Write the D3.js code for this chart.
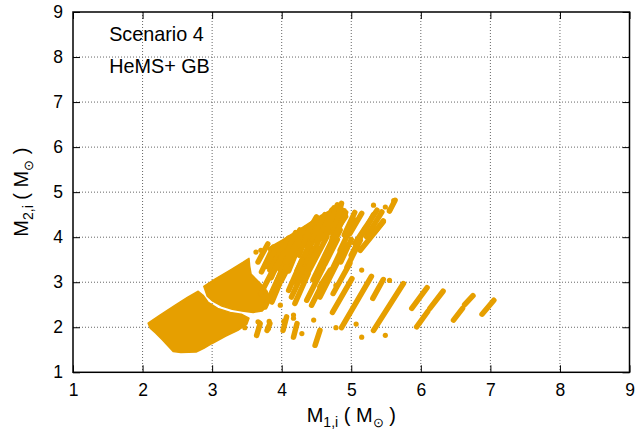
<!DOCTYPE html>
<html>
<head>
<meta charset="utf-8">
<script src="https://cdn.jsdelivr.net/npm/d3@7"></script>
<style>
  body { margin: 0; background: #fff; }
  svg { display: block; font-family: "Liberation Sans", Arial, sans-serif; }
</style>
</head>
<body>
<svg width="638" height="437"></svg>
<script>
  // tick values on both axes
  var xTicks = [1, 2, 3, 4, 5, 6, 7, 8, 9];
  var yTicks = [1, 2, 3, 4, 5, 6, 7, 8, 9];
  var notes = ["Scenario 4", "HeMS+ GB"];

  // dense regions (outline of the overlapping points), M1,i / M2,i
  var blobLow = [
    [2.08, 2.09], [2.25, 2.27], [2.47, 2.49], [2.65, 2.67], [2.80, 2.80],
    [2.87, 2.71], [2.94, 2.56], [3.08, 2.42], [3.26, 2.33], [3.42, 2.29],
    [3.53, 2.20], [3.50, 2.07], [3.37, 1.93], [3.19, 1.80], [3.00, 1.64],
    [2.88, 1.53], [2.77, 1.45], [2.55, 1.44], [2.44, 1.46], [2.37, 1.58],
    [2.28, 1.73], [2.19, 1.87], [2.11, 1.98]
  ];
  var blobHigh = [
    [2.88, 2.91], [3.04, 3.07], [3.26, 3.27], [3.44, 3.44], [3.53, 3.53],
    [3.54, 3.36], [3.56, 3.18], [3.63, 3.07], [3.72, 2.93], [3.79, 2.80],
    [3.83, 2.62], [3.79, 2.47], [3.72, 2.36], [3.59, 2.33], [3.43, 2.36],
    [3.29, 2.40], [3.14, 2.47], [3.01, 2.58], [2.93, 2.69]
  ];
  var blobTop = [
    [3.80, 3.75], [4.00, 3.93], [4.26, 4.18], [4.55, 4.47], [4.80, 4.68],
    [4.92, 4.62], [4.95, 4.45], [4.85, 4.22], [4.65, 4.02], [4.45, 3.87],
    [4.25, 3.72], [4.05, 3.60], [3.88, 3.55]
  ];

  // runs of points: [M1 start, M2 start, M1 end, M2 end]
  var streaks = [
    // upper cluster
    [3.71, 3.23, 3.88, 3.78], [3.78, 3.35, 3.95, 3.82], [3.83, 3.27, 4.02, 3.86],
    [3.90, 3.45, 4.10, 3.98], [3.93, 3.01, 4.12, 3.71], [3.98, 3.27, 4.26, 4.16],
    [4.05, 3.55, 4.20, 4.10], [4.10, 3.25, 4.35, 4.20], [4.14, 2.67, 4.41, 3.56],
    [4.17, 3.56, 4.50, 4.45], [4.20, 3.00, 4.45, 3.75], [4.25, 3.60, 4.42, 4.28],
    [4.30, 3.40, 4.58, 4.40], [4.31, 3.01, 4.65, 4.01], [4.36, 2.60, 4.60, 3.34],
    [4.40, 3.80, 4.62, 4.50], [4.43, 3.56, 4.72, 4.60], [4.50, 3.90, 4.75, 4.65],
    [4.55, 3.27, 4.84, 4.16], [4.55, 2.67, 4.84, 3.56], [4.60, 3.95, 4.80, 4.72],
    [4.67, 3.64, 4.86, 4.75], [4.74, 2.75, 4.98, 3.42], [4.75, 3.95, 4.92, 4.55],
    [4.84, 3.71, 5.05, 4.38], [4.94, 3.34, 5.13, 3.93], [4.98, 4.08, 5.15, 4.53],
    [5.05, 3.86, 5.37, 4.60], [5.13, 3.71, 5.46, 4.34], [5.22, 4.01, 5.44, 4.56],
    [5.34, 4.12, 5.46, 4.36], [5.55, 4.58, 5.63, 4.82],
    [3.66, 3.45, 3.80, 3.85], [3.85, 3.10, 3.98, 3.55], [4.00, 3.05, 4.15, 3.50],
    [4.06, 3.40, 4.30, 4.15], [4.22, 3.25, 4.40, 3.85], [4.35, 3.20, 4.52, 3.75],
    [4.45, 3.05, 4.70, 3.85], [4.62, 3.40, 4.80, 3.95], [4.70, 3.20, 4.90, 3.85],
    [4.85, 3.45, 5.00, 3.95], [4.90, 4.05, 5.05, 4.55], [5.00, 3.60, 5.20, 4.20],
    [5.18, 4.10, 5.32, 4.50],
    // joining the upper dense region to the cluster
    [3.76, 2.45, 3.98, 3.19], [3.86, 2.56, 4.07, 3.34], [3.70, 2.75, 3.85, 3.20],
    // middle, under the cluster
    [3.90, 3.27, 4.04, 3.67], [4.10, 2.82, 4.29, 3.49], [4.19, 2.53, 4.38, 3.19],
    [4.43, 2.49, 4.60, 3.01], [4.55, 2.90, 4.70, 3.27], [4.73, 2.33, 5.01, 3.08],
    // short runs below the dense regions
    [3.64, 1.82, 3.69, 2.08], [3.79, 1.93, 3.83, 2.08], [4.02, 1.93, 4.07, 2.23],
    [4.17, 1.78, 4.22, 2.08], [4.48, 1.60, 4.55, 1.93],
    // lower right
    [4.86, 1.99, 5.29, 3.13], [5.31, 2.64, 5.46, 3.06], [5.32, 1.93, 5.75, 2.97],
    [5.87, 2.42, 6.09, 2.88], [5.94, 2.01, 6.10, 2.35], [6.13, 2.42, 6.32, 2.80],
    [6.47, 2.16, 6.60, 2.42], [6.63, 2.50, 6.75, 2.70], [6.88, 2.29, 7.05, 2.60]
  ];

  // single points
  var dots = [
    [3.63, 3.67], [3.70, 3.71], [5.32, 4.71], [5.49, 4.67], [5.55, 4.60],
    [5.61, 4.81], [5.55, 3.04], [5.15, 3.27], [4.78, 2.93], [4.78, 1.99],
    [5.07, 2.07], [5.15, 1.78], [5.49, 1.82], [4.17, 2.27], [4.29, 1.86],
    [4.46, 2.16], [3.47, 1.99], [3.66, 2.12], [3.81, 1.97], [3.98, 2.49],
    [3.68, 2.10], [3.82, 2.13], [4.03, 2.13], [4.17, 2.20]
  ];

  var color = "#e69f00";

  var svg = d3.select("svg"),
      margin = {top: 12, right: 8.5, bottom: 64.7, left: 73},
      width = +svg.attr("width") - margin.left - margin.right,
      height = +svg.attr("height") - margin.top - margin.bottom,
      g = svg.append("g").attr("transform", "translate(" + margin.left + "," + margin.top + ")");

  var x = d3.scaleLinear().domain([1, 9]).range([0, width]);
  var y = d3.scaleLinear().domain([1, 9]).range([height, 0]);

  // grid
  g.append("g")
    .selectAll("line")
    .data(xTicks.slice(1, -1))
    .enter().append("line")
    .attr("x1", function(d) { return x(d); })
    .attr("x2", function(d) { return x(d); })
    .attr("y1", 0)
    .attr("y2", height)
    .attr("stroke", "#666")
    .attr("stroke-dasharray", "1,2");

  g.append("g")
    .selectAll("line")
    .data(yTicks.slice(1, -1))
    .enter().append("line")
    .attr("y1", function(d) { return y(d); })
    .attr("y2", function(d) { return y(d); })
    .attr("x1", 0)
    .attr("x2", width)
    .attr("stroke", "#666")
    .attr("stroke-dasharray", "1,2");

  // points
  var pts = g.append("g");
  var line = d3.line()
    .x(function(d) { return x(d[0]); })
    .y(function(d) { return y(d[1]); })
    .curve(d3.curveLinearClosed);

  pts.selectAll("path.blob")
    .data([blobLow, blobHigh, blobTop])
    .enter().append("path")
    .attr("class", "blob")
    .attr("d", line)
    .attr("fill", color)
    .attr("stroke", color)
    .attr("stroke-width", 1.5)
    .attr("stroke-linejoin", "round");

  pts.selectAll("line")
    .data(streaks)
    .enter().append("line")
    .attr("x1", function(d) { return x(d[0]); })
    .attr("y1", function(d) { return y(d[1]); })
    .attr("x2", function(d) { return x(d[2]); })
    .attr("y2", function(d) { return y(d[3]); })
    .attr("stroke", color)
    .attr("stroke-width", 5.5)
    .attr("stroke-linecap", "round");

  pts.selectAll("circle")
    .data(dots)
    .enter().append("circle")
    .attr("cx", function(d) { return x(d[0]); })
    .attr("cy", function(d) { return y(d[1]); })
    .attr("r", 2.6)
    .attr("fill", color);

  // axes, ticks pointing inwards on all four sides
  function styleAxis(sel) {
    sel.select(".domain").remove();
    sel.selectAll(".tick line").attr("stroke", "#000");
    sel.selectAll(".tick text")
      .attr("fill", "#000")
      .attr("font-family", "Liberation Sans, Arial, sans-serif")
      .attr("font-size", 17.5);
  }

  g.append("g")
    .attr("transform", "translate(0," + height + ")")
    .call(d3.axisBottom(x).tickValues(xTicks).tickSize(-7).tickPadding(11).tickFormat(d3.format("d")))
    .call(styleAxis);

  g.append("g")
    .call(d3.axisLeft(y).tickValues(yTicks).tickSize(-7).tickPadding(10).tickFormat(d3.format("d")))
    .call(styleAxis);

  g.append("g")
    .call(d3.axisTop(x).tickValues(xTicks).tickSize(-7).tickFormat(""))
    .call(styleAxis);

  g.append("g")
    .attr("transform", "translate(" + width + ",0)")
    .call(d3.axisRight(y).tickValues(yTicks).tickSize(-7).tickFormat(""))
    .call(styleAxis);

  g.append("rect")
    .attr("width", width)
    .attr("height", height)
    .attr("fill", "none")
    .attr("stroke", "#000")
    .attr("stroke-width", 1.5);

  // key text
  g.append("g")
    .selectAll("text")
    .data(notes)
    .enter().append("text")
    .attr("x", x(1.52))
    .attr("y", function(d, i) { return 29 + i * 31.5; })
    .attr("font-size", 19.8)
    .text(function(d) { return d; });

  // axis titles
  var xt = svg.append("text")
    .attr("x", margin.left + width / 2)
    .attr("y", 422)
    .attr("text-anchor", "middle")
    .attr("font-size", 20);
  xt.append("tspan").text("M");
  xt.append("tspan").attr("font-size", 14).attr("dy", 5).text("1,i");
  xt.append("tspan").attr("dy", -5).text(" ( M");
  xt.append("tspan").attr("font-size", 13).attr("dy", 5).text("\u2299");
  xt.append("tspan").attr("dy", -5).text(" )");

  var yt = svg.append("text")
    .attr("transform", "translate(28," + (margin.top + height / 2) + ") rotate(-90)")
    .attr("text-anchor", "middle")
    .attr("font-size", 20);
  yt.append("tspan").text("M");
  yt.append("tspan").attr("font-size", 14).attr("dy", 5).text("2,i");
  yt.append("tspan").attr("dy", -5).text(" ( M");
  yt.append("tspan").attr("font-size", 13).attr("dy", 5).text("\u2299");
  yt.append("tspan").attr("dy", -5).text(" )");
</script>
</body>
</html>
